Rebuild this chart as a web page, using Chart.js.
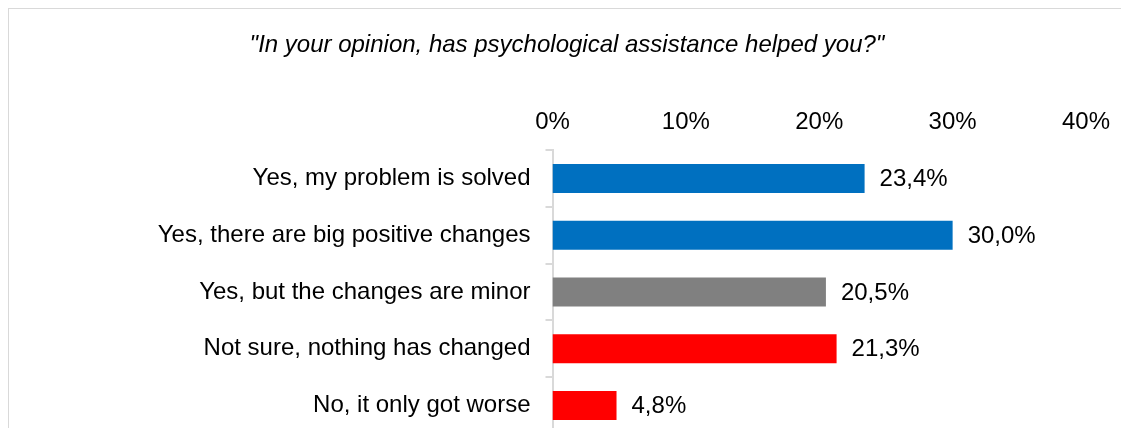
<!DOCTYPE html>
<html>
<head>
<meta charset="utf-8">
<script src="https://cdn.jsdelivr.net/npm/chart.js@4/dist/chart.umd.min.js"></script>
<style>
  html, body { margin: 0; padding: 0; background: #fff; overflow: hidden; }
  body { width: 1121px; height: 428px; position: relative; }
  #frame {
    position: absolute; left: 8px; top: 8px; width: 1300px; height: 600px;
    border-left: 1px solid #d9d9d9; border-top: 1px solid #d9d9d9;
    box-sizing: border-box;
  }
  #chart { position: absolute; left: 0; top: 0; }
</style>
</head>
<body>
<div id="frame"></div>
<canvas id="chart" width="1121" height="440"></canvas>
<script>
const categories = [
  'Yes, my problem is solved',
  'Yes, there are big positive changes',
  'Yes, but the changes are minor',
  'Not sure, nothing has changed',
  'No, it only got worse'
]
const shares = [23.4, 30.0, 20.5, 21.3, 4.8]
const barColors = ['#0070C0', '#0070C0', '#808080', '#FF0000', '#FF0000']
const axisTicks = [0, 10, 20, 30, 40]
const question = '"In your opinion, has psychological assistance helped you?"'

const FONT = '"Liberation Sans", Arial, sans-serif'

const fmt = v => v.toFixed(1).replace('.', ',') + '%'

// value labels to the right of each bar
const barValues = {
  id: 'barValues',
  afterDatasetsDraw(chart) {
    const ctx = chart.ctx
    const meta = chart.getDatasetMeta(0)
    ctx.save()
    ctx.font = '24px ' + FONT
    ctx.fillStyle = '#000'
    ctx.textAlign = 'left'
    ctx.textBaseline = 'middle'
    meta.data.forEach((bar, i) => {
      ctx.fillText(fmt(shares[i]), bar.x + 15, bar.y + 1)
    })
    ctx.restore()
  }
}

new Chart(document.getElementById('chart'), {
  type: 'bar',
  data: {
    labels: categories,
    datasets: [{
      data: shares,
      backgroundColor: barColors,
      borderWidth: 0,
      barPercentage: 0.51,
      categoryPercentage: 1
    }]
  },
  options: {
    indexAxis: 'y',
    responsive: false,
    animation: false,
    layout: { padding: { top: 31, left: 48, right: 35, bottom: 6 } },
    scales: {
      x: {
        position: 'top',
        min: 0,
        max: 40,
        afterBuildTicks(scale) {
          scale.ticks = axisTicks.map(v => ({ value: v }))
        },
        afterFit(scale) {
          scale.height = 80.2
          scale.paddingLeft = 0
          scale.paddingRight = 0
        },
        grid: { display: false, drawTicks: false },
        border: { display: false },
        ticks: {
          padding: 13,
          color: '#000',
          font: { family: FONT, size: 24 },
          callback: v => v + '%'
        }
      },
      y: {
        afterFit(scale) {
          scale.width = 504.5
          scale.paddingTop = 0
          scale.paddingBottom = 0
        },
        grid: {
          drawOnChartArea: false,
          drawTicks: true,
          tickLength: 7,
          color: '#d9d9d9',
          lineWidth: 2
        },
        border: { display: true, color: '#d9d9d9', width: 2 },
        ticks: {
          padding: 15,
          color: '#000',
          font: { family: FONT, size: 24 }
        }
      }
    },
    plugins: {
      legend: { display: false },
      tooltip: { enabled: false },
      title: {
        display: true,
        text: question,
        color: '#000',
        font: { family: FONT, size: 24, style: 'italic', weight: 'normal' },
        padding: { top: 0, bottom: 10 }
      }
    }
  },
  plugins: [barValues]
})
</script>
</body>
</html>
